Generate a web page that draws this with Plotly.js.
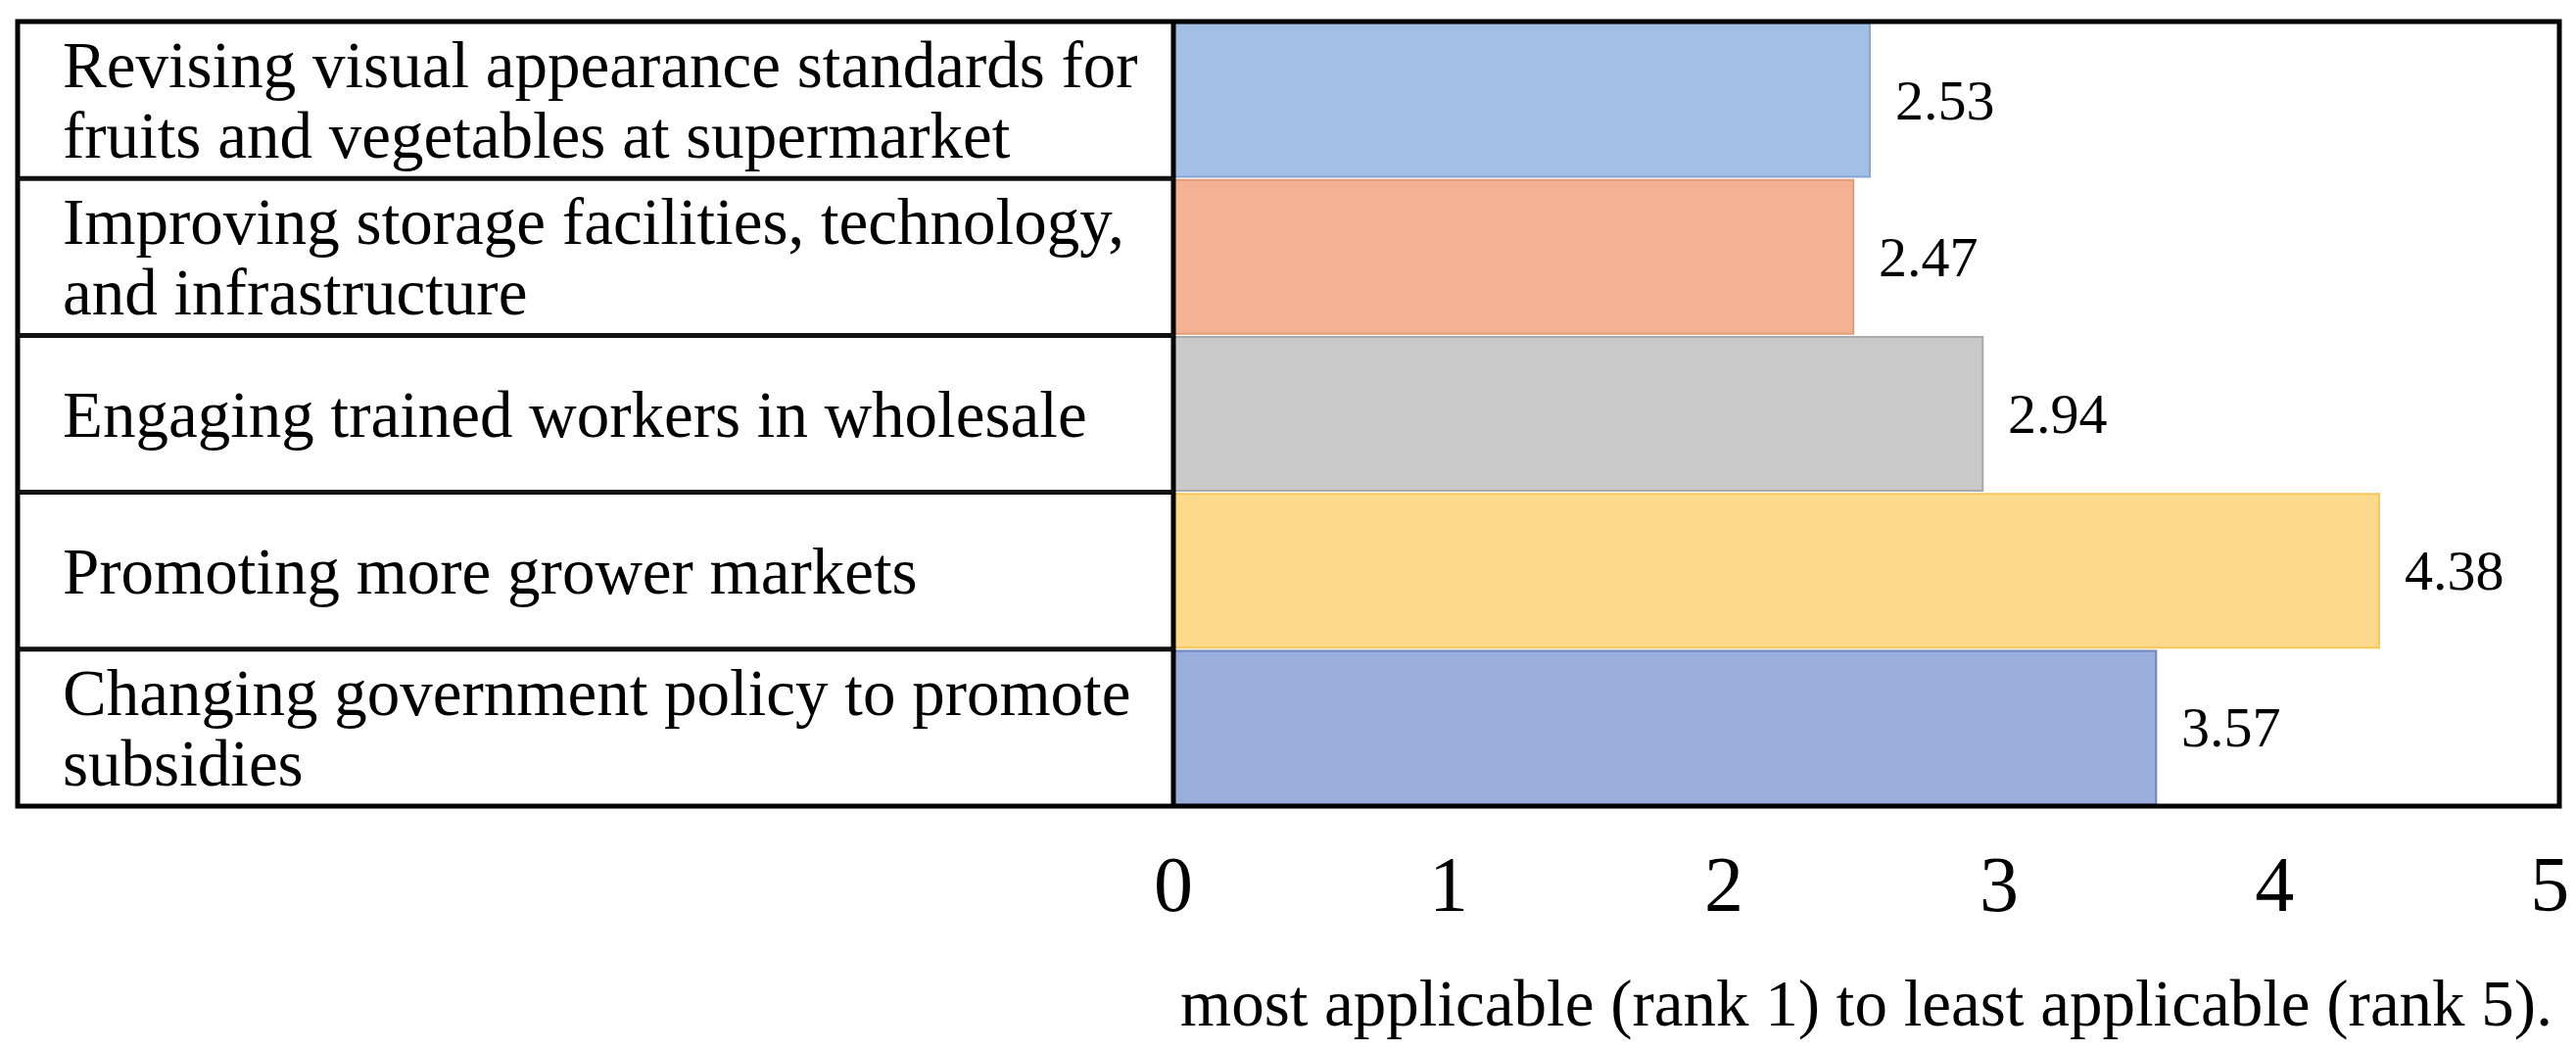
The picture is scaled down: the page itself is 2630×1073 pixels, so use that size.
<!DOCTYPE html>
<html><head><meta charset="utf-8">
<script src="https://cdn.plot.ly/plotly-3.0.1.min.js"></script>
<style>html,body{margin:0;padding:0;background:#fff}#chart{width:2630px;height:1073px}</style>
</head><body><div id="chart"></div>
<script>
const categories = [
  "Revising visual appearance standards for<br>fruits and vegetables at supermarket",
  "Improving storage facilities, technology,<br>and infrastructure",
  "Engaging trained workers in wholesale",
  "Promoting more grower markets",
  "Changing government policy to promote<br>subsidies"
];
const meanRanks = [2.53, 2.47, 2.94, 4.38, 3.57];
const valueLabels = ["2.53", "2.47", "2.94", "4.38", "3.57"];
const tickValues = [0, 1, 2, 3, 4, 5];
const tickLabels = ["0", "1", "2", "3", "4", "5"];
const axisTitle = "most applicable (rank 1) to least applicable (rank 5).";

const barColors = ["#a3bfe6", "#f4b294", "#c9c9c9", "#fdd98c", "#9aaedc"];
const barEdges  = ["#86a6d6", "#e39a76", "#a9a9a9", "#f5c75a", "#6f84bd"];

const W = 2630, H = 1073;
const M = {l: 1198, r: 17, t: 22, b: 250};
const plotW = W - M.l - M.r;
const tableLeft = (18 - M.l) / plotW;
const textLeft = (62 - M.l) / plotW;
const serif = "Liberation Serif";
const lineGap = 72;

const shapes = [];
shapes.push({type: "rect", xref: "paper", yref: "paper", x0: tableLeft, x1: 1, y0: 0, y1: 1,
  line: {color: "#000", width: 5}, layer: "above"});
shapes.push({type: "line", xref: "paper", yref: "paper", x0: 0, x1: 0, y0: 0, y1: 1,
  line: {color: "#000", width: 5}, layer: "above"});
for (let k = 0; k < categories.length - 1; k++) {
  shapes.push({type: "line", xref: "paper", yref: "y", x0: tableLeft, x1: 0, y0: k + 0.5, y1: k + 0.5,
    line: {color: "#111", width: 5}, layer: "above"});
}

const annotations = [];
categories.forEach((c, i) => {
  const lines = c.split("<br>");
  lines.forEach((ln, j) => {
    annotations.push({xref: "paper", yref: "y", x: textLeft, y: i, xanchor: "left", yanchor: "middle",
      text: ln, showarrow: false, yshift: -(j - (lines.length - 1) / 2) * lineGap,
      font: {family: serif, size: 67, color: "#000"}});
  });
});
meanRanks.forEach((v, i) => {
  annotations.push({xref: "x", yref: "y", x: v, y: i, xanchor: "left", yanchor: "middle",
    text: valueLabels[i], showarrow: false, xshift: 24,
    font: {family: serif, size: 58, color: "#000"}});
});

const trace = {
  type: "bar", orientation: "h",
  x: meanRanks, y: categories,
  marker: {color: barColors, line: {color: barEdges, width: 2}},
  hoverinfo: "skip"
};

const layout = {
  width: W, height: H,
  margin: M,
  font: {family: serif, color: "#000"},
  paper_bgcolor: "#fff", plot_bgcolor: "#fff",
  showlegend: false,
  bargap: 0.02,
  xaxis: {
    range: [0, 5.035], tickvals: tickValues, ticktext: tickLabels,
    showgrid: false, zeroline: false, showline: false, ticks: "",
    ticklabelstandoff: 26,
    tickfont: {family: serif, size: 80, color: "#000"},
    title: {text: axisTitle, font: {family: serif, size: 67, color: "#000"}, standoff: 54}
  },
  yaxis: {
    type: "category", categoryarray: categories, range: [4.5, -0.5],
    showticklabels: false, showgrid: false, zeroline: false, showline: false, ticks: ""
  },
  shapes: shapes,
  annotations: annotations
};

Plotly.newPlot("chart", [trace], layout, {staticPlot: true, displayModeBar: false});
</script>
</body></html>
